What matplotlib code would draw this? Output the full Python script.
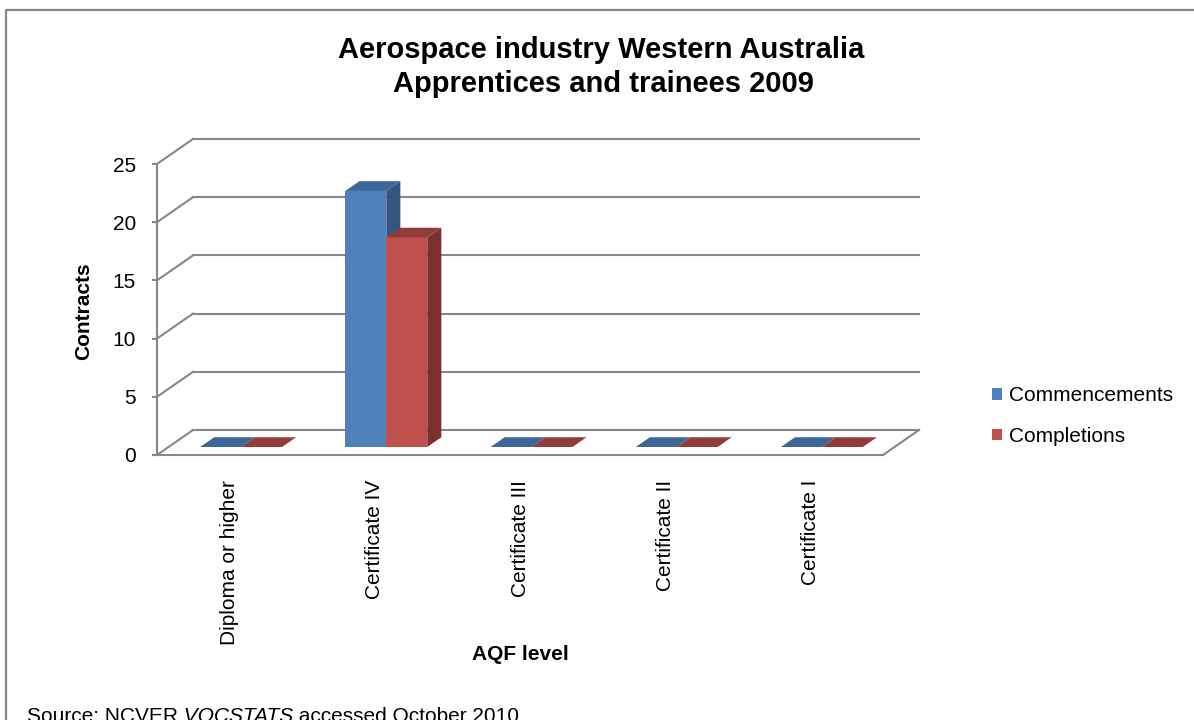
import matplotlib
matplotlib.use("Agg")
import matplotlib.pyplot as plt
from matplotlib.lines import Line2D
from matplotlib.patches import Patch, Polygon, Rectangle

plt.rcParams["font.family"] = ["Liberation Sans", "DejaVu Sans"]

# --- DATA ---
categories = ["Diploma or higher", "Certificate IV", "Certificate III",
              "Certificate II", "Certificate I"]
commencements = [0, 22, 0, 0, 0]
completions = [0, 18, 0, 0, 0]
series_names = ["Commencements", "Completions"]
y_ticks = [0, 5, 10, 15, 20, 25]

# --- STYLE ---
W, H = 1194, 720
GRAY = "#878787"
FRONT = ["#4F81BD", "#C0504D"]
TOP = ["#3C6798", "#923C39"]
SIDE = ["#34557F", "#7A302E"]
BAR_W = 0.282           # width of one bar, in category units
D0, D1 = 0.32, 0.71     # bar depth span, as fraction of floor depth

fig = plt.figure(figsize=(W / 100, H / 100), dpi=100)
ax = fig.add_axes([157 / W, 1 - 455 / H, 726 / W, 291 / H])
ax.set_xlim(0, len(categories))
ax.set_ylim(0, y_ticks[-1])
ax.patch.set_visible(False)

# oblique offset of the back wall in data units
DX = 36 / (726 / len(categories))
DY = 25 / (291 / y_ticks[-1])

# back wall gridlines plus the diagonals on the side wall
for v in y_ticks:
    ax.add_line(Line2D([DX, len(categories) + DX], [v + DY, v + DY],
                       color=GRAY, lw=1.5, clip_on=False, zorder=1))
    ax.add_line(Line2D([0, DX], [v, v + DY],
                       color=GRAY, lw=1.5, clip_on=False, zorder=1))
# right edge of the floor
ax.add_line(Line2D([len(categories), len(categories) + DX], [0, DY],
                   color=GRAY, lw=1.5, clip_on=False, zorder=1))


def draw_bar(x0, val, s):
    fx, fy = x0 + D0 * DX, D0 * DY
    bx, by = x0 + D1 * DX, D1 * DY
    kw = dict(clip_on=False, zorder=3, lw=0)
    if val > 0:
        ax.add_patch(Rectangle((fx, fy), BAR_W, val, fc=FRONT[s], **kw))
        ax.add_patch(Polygon([(fx + BAR_W, fy), (bx + BAR_W, by),
                              (bx + BAR_W, by + val), (fx + BAR_W, fy + val)],
                             fc=SIDE[s], **kw))
    ax.add_patch(Polygon([(fx, fy + val), (fx + BAR_W, fy + val),
                          (bx + BAR_W, by + val), (bx, by + val)],
                         fc=TOP[s], **kw))


for i in range(len(categories)):
    for s, values in enumerate([commencements, completions]):
        draw_bar(i + 0.5 - BAR_W + s * BAR_W, values[i], s)

# axes styling
for side in ["top", "right"]:
    ax.spines[side].set_visible(False)
for side in ["left", "bottom"]:
    ax.spines[side].set_color(GRAY)
    ax.spines[side].set_linewidth(1.5)
    ax.spines[side].set_zorder(2)

ax.set_yticks(y_ticks)
ax.tick_params(axis="y", direction="out", length=3.6, width=1.5,
               color=GRAY, pad=11.5, labelsize=15)
ax.set_xticks([i + 0.5 for i in range(len(categories))])
ax.set_xticklabels(categories, rotation=90, va="top", ha="center")
ax.tick_params(axis="x", length=0, pad=18, labelsize=15)

# titles and axis names
fig.text(601 / W, 1 - 58 / H, "Aerospace industry Western Australia",
         ha="center", va="baseline", fontsize=21, fontweight="bold")
fig.text(603 / W, 1 - 92 / H, "Apprentices and trainees 2009",
         ha="center", va="baseline", fontsize=21, fontweight="bold")
fig.text(84 / W, 1 - 311 / H, "Contracts", rotation=90, ha="center",
         va="center", fontsize=15, fontweight="bold")
fig.text(520 / W, 1 - 655 / H, "AQF level", ha="center", va="center",
         fontsize=15, fontweight="bold")

fig.legend(handles=[Patch(fc=c, lw=0) for c in FRONT], labels=series_names,
           loc="center left", bbox_to_anchor=(992 / W, 1 - 416 / H),
           frameon=False, fontsize=15, handlelength=0.5, handleheight=0.5,
           handletextpad=0.3, labelspacing=1.05, borderpad=0, borderaxespad=0)

# source line, with the italic dataset name
t1 = fig.text(27 / W, 1 - 722 / H, "Source: NCVER", fontsize=15,
              va="baseline")
t2 = ax.annotate(" VOCSTATS", xy=(1, 0), xycoords=t1, va="bottom",
                 fontsize=15, style="italic", annotation_clip=False)
ax.annotate(" accessed October 2010", xy=(1, 0), xycoords=t2, va="bottom",
            fontsize=15, annotation_clip=False)

# chart area border (runs off the right and bottom edges)
fig.add_artist(Line2D([6 / W, 6 / W, 1.01], [-0.01, 1 - 9.5 / H, 1 - 9.5 / H],
                      transform=fig.transFigure, color=GRAY, lw=1.6))

fig.savefig("out.png", dpi=100)
